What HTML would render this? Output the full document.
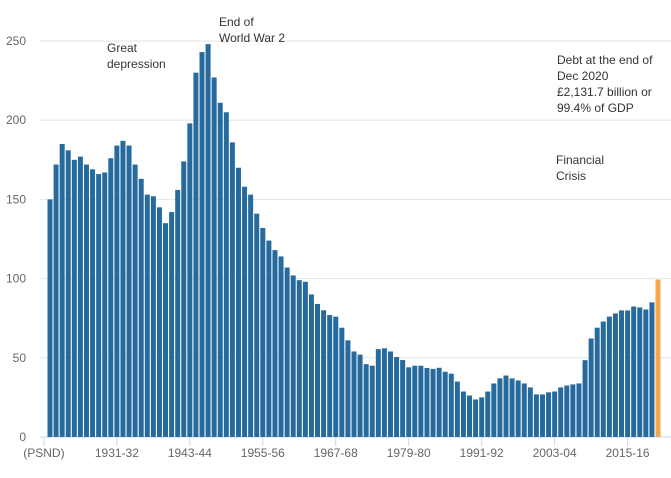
<!DOCTYPE html>
<html><head><meta charset="utf-8"><style>
body{margin:0;background:#fff;width:671px;height:473px;overflow:hidden;font-family:"Liberation Sans",sans-serif}
</style></head><body>
<svg id="chart" width="671" height="473" xmlns="http://www.w3.org/2000/svg" font-family="Liberation Sans, sans-serif"></svg>
<script>
const startYear = 1920;
const values = [150,172,185,181,175,177,172,169,166,167,176,184,187,184,172,163,153,152,145,135,142,156,174,198,230,243,248,227,211,205,
186,170,158,153,141,132,124,118,114,107,102,99,98,90,84,80,77,76,69,61,54,52,46,45,55.5,56,54,50.5,48.6,44,
45,45,43.6,43,43.7,41.2,40,35,28.7,26.2,23.7,25,28.7,33.8,37,38.8,37,35.7,33.8,31.3,26.9,26.9,28.2,28.7,31.3,32.5,33.2,33.8,48.5,62.2,
69,72.9,76,78,79.9,79.9,82.4,81.8,80.5,85,99.4];
const yTicks = [0,50,100,150,200,250];
const xTickLabels = ["(PSND)","1931-32","1943-44","1955-56","1967-68","1979-80","1991-92","2003-04","2015-16"];
const xTickIndex = [-1,11,23,35,47,59,71,83,95];

const NS="http://www.w3.org/2000/svg";
const svg=document.getElementById('chart');
const x0=50, step=6.08, bw=5, yBase=437, yScale=1.584;
const X=i=>x0+i*step;
const Y=v=>yBase-v*yScale;
function mk(t,a,txt){const e=document.createElementNS(NS,t);for(const k in a)e.setAttribute(k,a[k]);if(txt!==undefined)e.textContent=txt;svg.appendChild(e);return e;}
yTicks.forEach(v=>{
  const g=mk('line',{x1:40,x2:671,y1:Y(v),y2:Y(v),stroke:v===0?'#ccd6eb':'#e6e6e6','stroke-width':1});
  
  
  const t=mk('text',{x:26,y:Y(v)+4,'text-anchor':'end','font-size':12,fill:'#666'},String(v));
  
  
});
values.forEach((v,i)=>{
  const r=mk('rect',{x:X(i)-bw/2,y:Y(v),width:bw,height:v*yScale,fill:i===values.length-1?'#f5a54a':'#276b9e'});
  const yr=startYear+i;
  
  
});
xTickIndex.forEach((idx,k)=>{
  const x=X(idx);
  const l=mk('line',{x1:x,x2:x,y1:437,y2:446,stroke:'#ccd6eb'});
  
  
  const t=mk('text',{x:x,y:457,'text-anchor':'middle','font-size':12,fill:'#666'},xTickLabels[k]);
  
  
});
function note(name,x,y,lines){
  const t=mk('text',{x:x,y:y,'font-size':12,fill:'#333'});
  
  
  lines.forEach((s,i)=>{const ts=document.createElementNS(NS,'tspan');ts.setAttribute('x',x);ts.setAttribute('dy',i?16:0);ts.textContent=s;t.appendChild(ts);});
}
note('annotation-great-depression',107,52,['Great','depression']);
note('annotation-end-of-ww2',219,26,['End of','World War 2']);
note('annotation-debt-dec-2020',557,64,['Debt at the end of','Dec 2020','£2,131.7 billion or','99.4% of GDP']);
note('annotation-financial-crisis',556,164,['Financial','Crisis']);
</script>
</body></html>
